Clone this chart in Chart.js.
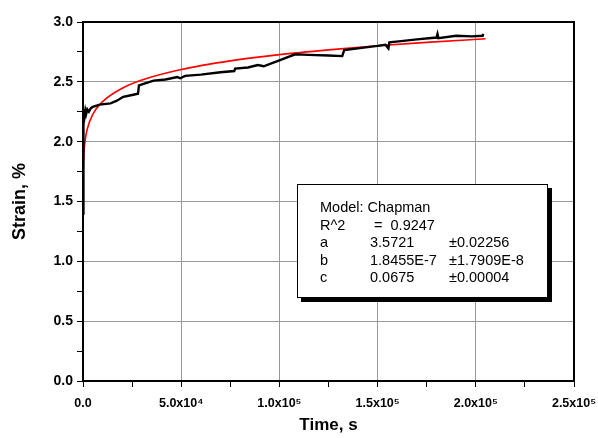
<!DOCTYPE html>
<html>
<head>
<meta charset="utf-8">
<script src="https://cdn.jsdelivr.net/npm/chart.js@4.4.0/dist/chart.umd.min.js"></script>
<style>
  html, body { margin: 0; padding: 0; background: #fff; }
  #wrap { position: relative; width: 598px; height: 438px; }
  #fitbox {
    position: absolute; left: 297px; top: 184px; width: 249px; height: 112px;
    border: 1px solid #000; background: #fff; box-shadow: 4px 4px 0 #000;
    font-family: "Liberation Sans", Arial, sans-serif; font-size: 14.5px; color: #000;
  }
  #fitbox table { position: absolute; left: 22px; top: 14px; border-collapse: collapse; }
  #fitbox td { padding: 0; height: 17.5px; line-height: 17.5px; white-space: nowrap; vertical-align: middle; }
  #fitbox td.c1 { width: 50px; }
  #fitbox td.c2 { width: 79px; }
</style>
</head>
<body>
<div id="wrap">
  <canvas id="myChart" width="598" height="438"></canvas>
  <div id="fitbox">
    <table>
      <tr><td colspan="3">Model: Chapman</td></tr>
      <tr><td class="c1">R^2</td><td colspan="2">&nbsp;=&nbsp; 0.9247</td></tr>
      <tr><td class="c1">a</td><td class="c2">3.5721</td><td>±0.02256</td></tr>
      <tr><td class="c1">b</td><td class="c2">1.8455E-7</td><td>±1.7909E-8</td></tr>
      <tr><td class="c1">c</td><td class="c2">0.0675</td><td>±0.00004</td></tr>
    </table>
  </div>
</div>
<script>
var timeData = [0, 0, 100, 300, 500, 800, 1200, 1600, 2200, 3000, 4000, 5000, 8500, 14000, 17000, 20500, 25000, 28000,
  28500, 32000, 36000, 42000, 48000, 49500, 52000, 60000, 70000, 77000, 77500, 84000, 89000, 92000, 100000,
  108000, 115000, 125000, 132000, 133000, 140000, 150000, 154000, 155500, 156000, 162000, 170000, 180000,
  180500, 181000, 190000, 198000, 203500, 203800];
var strainData = [1.40, 1.80, 2.27, 2.20, 2.25, 2.21, 2.26, 2.23, 2.27, 2.25, 2.28, 2.29, 2.31, 2.32, 2.34, 2.375, 2.39, 2.40,
  2.47, 2.49, 2.51, 2.52, 2.54, 2.53, 2.55, 2.56, 2.58, 2.59, 2.61, 2.62, 2.64, 2.63, 2.68,
  2.73, 2.725, 2.72, 2.715, 2.765, 2.78, 2.80, 2.81, 2.78, 2.83, 2.84, 2.855, 2.87,
  2.90, 2.865, 2.885, 2.88, 2.885, 2.90];

// Chapman fit (red)
var fitTime = [20, 50, 100, 200, 500, 1000, 2000, 5000, 10000, 20000, 30000, 50000, 75000, 100000, 125000, 150000, 175000, 205000];
var fitStrain = [1.535, 1.633, 1.711, 1.794, 1.908, 1.999, 2.095, 2.229, 2.335, 2.447, 2.515, 2.603, 2.675, 2.727, 2.767, 2.801, 2.830, 2.860];

var xTickLabels = {0: '0.0', 50000: '5.0x10\u2074', 100000: '1.0x10\u2075', 150000: '1.5x10\u2075', 200000: '2.0x10\u2075', 250000: '2.5x10\u2075'};

function pairs(xs, ys) {
  return xs.map(function (x, i) { return { x: x, y: ys[i] }; });
}

var frame = {
  id: 'frame',
  afterDraw: function (chart) {
    var a = chart.chartArea, c = chart.ctx;
    c.save();
    c.strokeStyle = '#000';
    c.lineWidth = 2;
    c.strokeRect(a.left, a.top, a.right - a.left, a.bottom - a.top);
    c.restore();
  }
};

var ctx = document.getElementById('myChart').getContext('2d');
var chart = new Chart(ctx, {
  type: 'scatter',
  data: {
    datasets: [{
      label: 'Strain',
      data: pairs(timeData, strainData),
      showLine: true,
      borderColor: '#000',
      borderWidth: 2.4,
      pointRadius: 0,
      tension: 0
    }, {
      label: 'Chapman fit',
      data: pairs(fitTime, fitStrain),
      showLine: true,
      borderColor: '#ff0000',
      borderWidth: 1.6,
      pointRadius: 0,
      cubicInterpolationMode: 'monotone'
    }]
  },
  plugins: [frame],
  options: {
    responsive: false,
    animation: false,
    layout: { padding: { left: 0, right: 24, top: 22, bottom: 0 } },
    plugins: { legend: { display: false }, tooltip: { enabled: false } },
    scales: {
      x: {
        type: 'linear',
        min: 0, max: 250000,
        afterFit: function (s) { s.height = 57; s.paddingRight = 0; s.paddingLeft = 0; },
        ticks: {
          stepSize: 25000,
          maxRotation: 0,
          autoSkip: false,
          padding: 9,
          color: '#000',
          font: { family: '"Liberation Sans", Arial, sans-serif', size: 12.5, weight: 'bold' },
          callback: function (v) { return xTickLabels[v] !== undefined ? xTickLabels[v] : ''; }
        },
        grid: {
          color: function (c) { return (c.tick && c.tick.value % 50000 === 0) ? '#999' : 'rgba(0,0,0,0)'; },
          tickColor: '#000',
          tickLength: 6,
          lineWidth: 1
        },
        border: { color: '#000', width: 2 },
        title: {
          display: true, text: 'Time, s', color: '#000', padding: { top: 0, bottom: 2 },
          font: { family: '"Liberation Sans", Arial, sans-serif', size: 17, weight: 'bold' }
        }
      },
      y: {
        min: 0, max: 3,
        afterFit: function (s) { s.width = 83; s.paddingTop = 0; s.paddingBottom = 0; },
        ticks: {
          stepSize: 0.25,
          autoSkip: false,
          padding: 4,
          color: '#000',
          font: { family: '"Liberation Sans", Arial, sans-serif', size: 14, weight: 'bold' },
          callback: function (v) { return Math.abs(v * 2 - Math.round(v * 2)) < 1e-9 ? v.toFixed(1) : ''; }
        },
        grid: {
          color: function (c) { return (c.tick && Math.abs(c.tick.value * 2 - Math.round(c.tick.value * 2)) < 1e-9) ? '#999' : 'rgba(0,0,0,0)'; },
          tickColor: '#000',
          tickLength: 6,
          lineWidth: 1
        },
        border: { color: '#000', width: 2 },
        title: {
          display: true, text: 'Strain, %', color: '#000', padding: { top: 9, bottom: 0 },
          font: { family: '"Liberation Sans", Arial, sans-serif', size: 18, weight: 'bold' }
        }
      }
    }
  }
});
</script>
</body>
</html>
